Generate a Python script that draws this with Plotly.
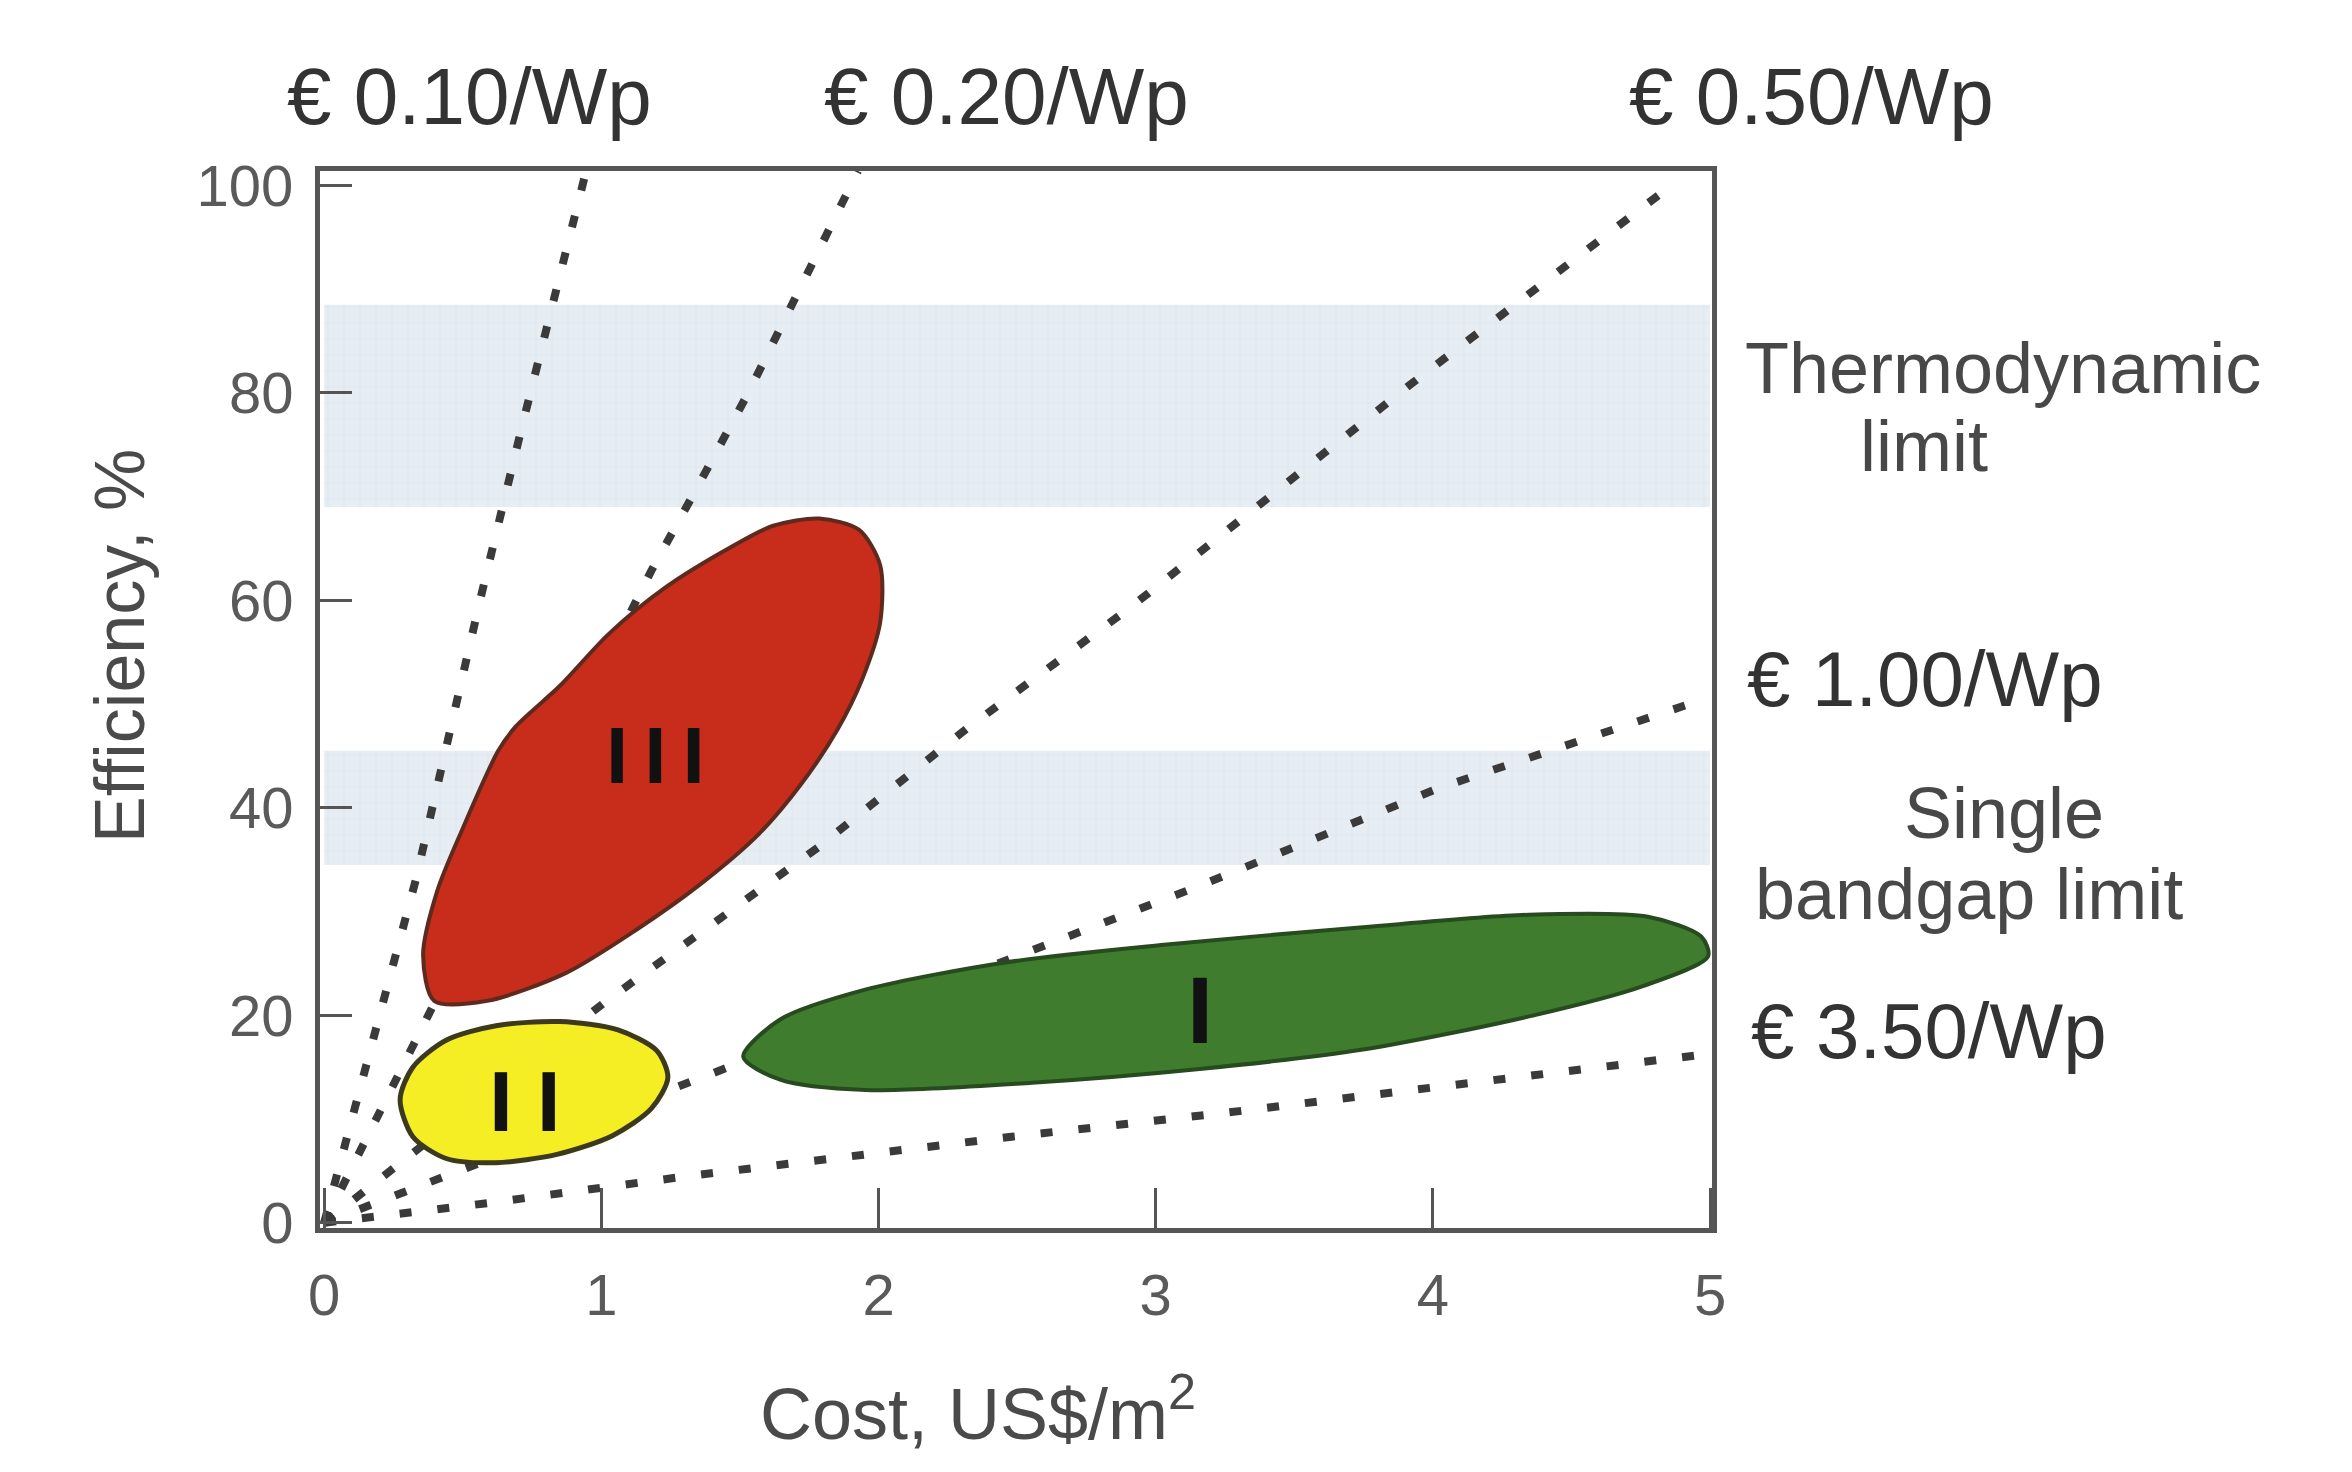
import plotly.graph_objects as go

# ---------------- data ----------------
x_ticks = [0, 1, 2, 3, 4, 5]
y_ticks = [0, 20, 40, 60, 80, 100]

# price lines (cost US$/m2 vs efficiency %)
price_labels = ["€ 0.10/Wp", "€ 0.20/Wp", "€ 0.50/Wp", "€ 1.00/Wp", "€ 3.50/Wp"]
line_010_x = [0, 0.33, 0.564, 0.714, 0.945]
line_010_y = [0, 33.0, 60.2, 76.8, 101.4]
line_020_x = [0, 1.181, 1.348, 1.532, 1.926]
line_020_y = [0, 62.9, 71.0, 80.1, 101.4]
line_050_x = [0, 1.014, 1.782, 2.316, 2.917, 3.918, 4.85]
line_050_y = [0, 21.3, 36.2, 47.6, 59.5, 80.8, 99.8]
line_100_x = [0, 1.38, 3.15, 4.02, 4.98]
line_100_y = [0, 14.2, 32.4, 41.9, 50.5]
line_350_x = [0, 0.59, 1.34, 2.48, 3.25, 4.37, 4.97]
line_350_y = [0, 1.9, 4.6, 8.3, 10.6, 14.3, 16.2]

# limit bands (efficiency range)
band_names = ["Thermodynamic limit", "Single bandgap limit"]
band_lo = [69.0, 34.5]
band_hi = [88.5, 45.5]
band_x = [0, 5.0]

# generation regions (outline points)
gen3_x = [1.786, 1.930, 2.006, 2.006, 1.941, 1.851, 1.721, 1.569, 1.360, 1.129, 0.873, 0.588,
          0.397, 0.357, 0.408, 0.498, 0.628, 0.693, 0.848, 1.028, 1.234, 1.465, 1.620]
gen3_y = [67.9, 66.8, 63.4, 57.9, 52.4, 47.5, 42.3, 37.5, 32.7, 28.3, 24.1, 21.4,
          21.4, 25.8, 32.0, 37.9, 45.5, 47.9, 51.7, 56.8, 61.3, 65.1, 67.2]
gen2_x = [0.274, 0.32, 0.44, 0.62, 0.85, 1.06, 1.20, 1.24, 1.18, 1.04, 0.84, 0.62, 0.44, 0.32]
gen2_y = [11.9, 15.0, 17.6, 19.0, 19.4, 18.6, 16.6, 14.0, 11.0, 8.4, 6.6, 5.8, 6.2, 8.3]
gen1_x = [1.512, 1.645, 1.955, 2.457, 3.030, 3.748, 4.347, 4.776, 4.968, 4.993, 4.755, 4.347,
          3.748, 3.149, 2.554, 1.955, 1.645]
gen1_y = [16.0, 19.6, 22.5, 25.1, 26.8, 28.5, 29.7, 29.5, 27.6, 25.7, 22.8, 19.9,
          16.7, 14.8, 13.5, 12.8, 13.8]
gen_labels = ["I", "II", "III"]
gen_label_x = [3.16, 0.725, 1.194]
gen_label_y = [20.5, 11.7, 45.1]

# ---------------- figure ----------------
FONT = "Liberation Sans, Arial, sans-serif"
fig = go.Figure()

band_fill = "#e7eef3"
for lo, hi in zip(band_lo, band_hi):
    fig.add_trace(go.Scatter(
        x=[band_x[0], band_x[1], band_x[1], band_x[0], band_x[0]],
        y=[lo, lo, hi, hi, lo], mode="lines", fill="toself",
        fillcolor=band_fill, line=dict(width=0, color=band_fill),
        fillpattern=dict(shape="+", bgcolor=band_fill, fgcolor="#d6e0e9", size=16, solidity=0.15),
        hoverinfo="skip", showlegend=False))

dash_style = dict(color="#3a3a3a", width=8, dash="12px,26px")
for lx, ly in [(line_010_x, line_010_y), (line_020_x, line_020_y), (line_050_x, line_050_y),
               (line_100_x, line_100_y), (line_350_x, line_350_y)]:
    fig.add_trace(go.Scatter(x=lx, y=ly, mode="lines", line=dash_style,
                             hoverinfo="skip", showlegend=False))

def blob(xs, ys, fill, edge, w):
    fig.add_trace(go.Scatter(
        x=xs + xs[:1], y=ys + ys[:1], mode="lines", fill="toself",
        fillcolor=fill, line=dict(color=edge, width=w, shape="spline", smoothing=0.8),
        hoverinfo="skip", showlegend=False))

blob(gen3_x, gen3_y, "#c82d1b", "#5e2a1e", 4)
blob(gen2_x, gen2_y, "#f6ee24", "#3d3a1c", 5)
blob(gen1_x, gen1_y, "#3f7c2e", "#274a1f", 4)

annotations = []
gen_text = {"I": "I", "II": "I I", "III": "I\u2009I\u2009I"}
gen_size = {"I": 94, "II": 86, "III": 80}
for lab, gx, gy in zip(gen_labels, gen_label_x, gen_label_y):
    annotations.append(dict(x=gx, y=gy, xref="x", yref="y", text="<b>%s</b>" % gen_text[lab],
                            showarrow=False, font=dict(family=FONT, size=gen_size[lab], color="#111111"),
                            xanchor="center", yanchor="middle"))

# plot area in page pixels: x 320..1712, y 171..1228 (page body has an 8px margin)
BODY = 8
def px(xp):
    return (xp - 320) / 1392.0

def py(yp):
    return (1228 - yp) / 1057.0

text_items = [
    (price_labels[0], 285, 97, 80, "#333333"),
    (price_labels[1], 822, 97, 80, "#333333"),
    (price_labels[2], 1627, 97, 80, "#333333"),
    ("Thermodynamic", 1743, 368, 72, "#484848"),
    ("limit", 1858, 446, 72, "#484848"),
    (price_labels[3], 1745, 679, 78, "#333333"),
    ("Single", 1902, 813, 72, "#484848"),
    ("bandgap limit", 1753, 894, 72, "#484848"),
    (price_labels[4], 1749, 1031, 78, "#333333"),
]
for t, xp, yp, sz, col in text_items:
    annotations.append(dict(x=px(xp), y=py(yp), xref="paper", yref="paper", text=t,
                            showarrow=False, xanchor="left", yanchor="middle",
                            font=dict(family=FONT, size=sz, color=col)))

annotations.append(dict(x=px(978), y=py(1408), xref="paper", yref="paper",
                        text="Cost, US$/m<sup>2</sup>", showarrow=False,
                        xanchor="center", yanchor="middle",
                        font=dict(family=FONT, size=72, color="#4a4a4a")))
annotations.append(dict(x=px(120), y=py(646), xref="paper", yref="paper",
                        text="Efficiency, %", showarrow=False, textangle=-90,
                        xanchor="center", yanchor="middle",
                        font=dict(family=FONT, size=70, color="#4a4a4a")))

axis_common = dict(showgrid=False, zeroline=False, showline=True, mirror=True,
                   linewidth=5, linecolor="#555555", ticks="inside", tickwidth=3,
                   tickcolor="#555555", tickfont=dict(family=FONT, size=58, color="#5a5a5a"))

fig.update_layout(
    width=2336, height=1456, autosize=False,
    margin=dict(l=320 - BODY, r=2336 - (320 - BODY) - 1392, t=171 - BODY,
                b=1456 - (171 - BODY) - 1057),
    paper_bgcolor="white", plot_bgcolor="white",
    showlegend=False,
    annotations=annotations,
    xaxis=dict(range=[-0.015, 5.007], tickvals=x_ticks, ticktext=[str(v) for v in x_ticks],
               ticklen=40, ticklabelstandoff=12, **axis_common),
    yaxis=dict(range=[-0.5, 101.4], tickvals=y_ticks, ticktext=[str(v) for v in y_ticks],
               ticklen=32, ticklabelstandoff=10, **axis_common),
)

fig.write_html("out.html")
